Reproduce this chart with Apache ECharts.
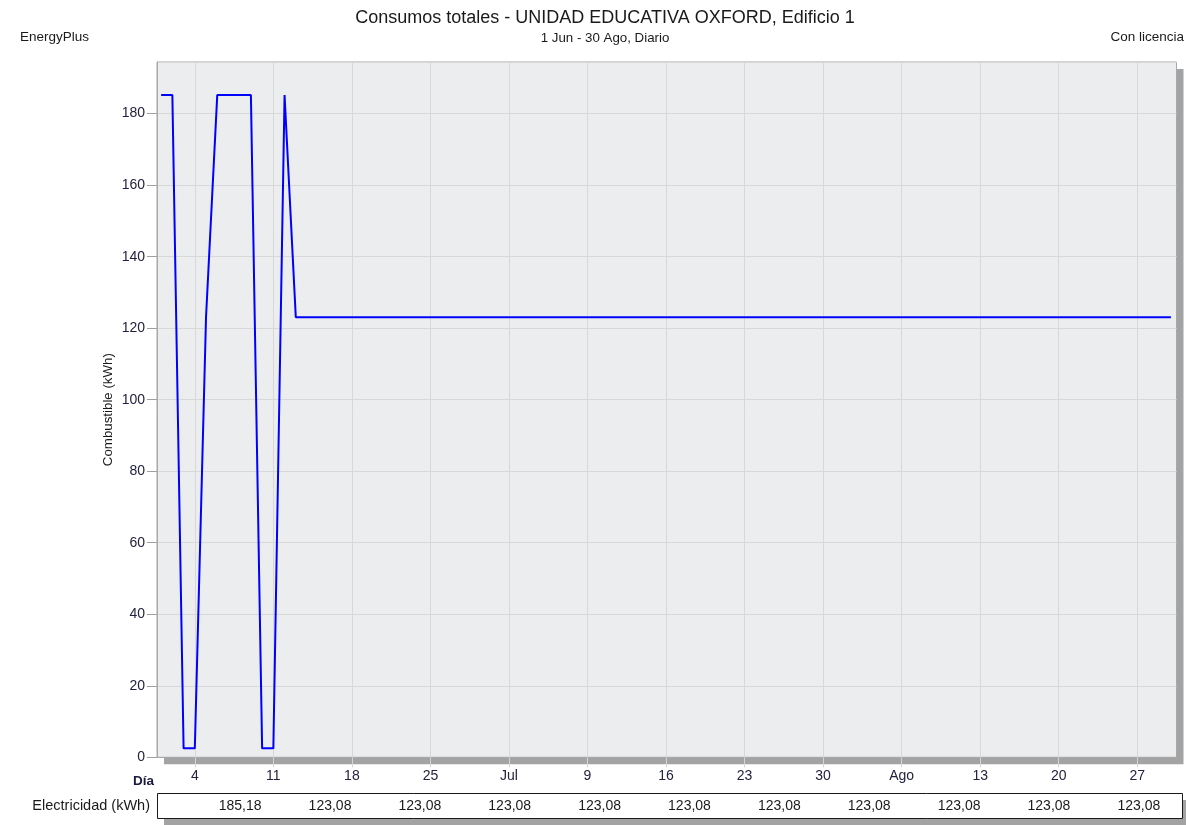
<!DOCTYPE html>
<html>
<head>
<meta charset="utf-8">
<script src="https://cdn.jsdelivr.net/npm/echarts@6/dist/echarts.min.js"></script>
<style>html,body{margin:0;padding:0;background:#fff;}#c{width:1186px;height:825px;}</style>
</head>
<body>
<div id="c"></div>
<script>
// Daily fuel consumption (kWh), 1 Jun .. 30 Ago (91 days)
const fuelValues = [
  185.18, 185.18, 2.5, 2.5, 123.08, 185.18, 185.18, 185.18, 185.18, 2.5,
  2.5, 185.18, 123.08, 123.08, 123.08, 123.08, 123.08, 123.08, 123.08, 123.08,
  123.08, 123.08, 123.08, 123.08, 123.08, 123.08, 123.08, 123.08, 123.08, 123.08,
  123.08, 123.08, 123.08, 123.08, 123.08, 123.08, 123.08, 123.08, 123.08, 123.08,
  123.08, 123.08, 123.08, 123.08, 123.08, 123.08, 123.08, 123.08, 123.08, 123.08,
  123.08, 123.08, 123.08, 123.08, 123.08, 123.08, 123.08, 123.08, 123.08, 123.08,
  123.08, 123.08, 123.08, 123.08, 123.08, 123.08, 123.08, 123.08, 123.08, 123.08,
  123.08, 123.08, 123.08, 123.08, 123.08, 123.08, 123.08, 123.08, 123.08, 123.08,
  123.08, 123.08, 123.08, 123.08, 123.08, 123.08, 123.08, 123.08, 123.08, 123.08,
  123.08
];
// x tick positions (day index from 1 Jun) and their labels
const tickDays = [3, 10, 17, 24, 31, 38, 45, 52, 59, 66, 73, 80, 87];
const tickLabels = ['4', '11', '18', '25', 'Jul', '9', '16', '23', '30', 'Ago', '13', '20', '27'];
// Electricity table values
const elecValues = ['185,18', '123,08', '123,08', '123,08', '123,08', '123,08', '123,08', '123,08', '123,08', '123,08', '123,08'];
const yMax = 185.18 * 1.05;

const FONT = 'Liberation Sans, Arial, sans-serif';
const LABEL_COLOR = '#23233f';
const G = { left: 157, top: 62, width: 1019.5, height: 695.3 };

const chart = echarts.init(document.getElementById('c'), null, { renderer: 'canvas' });

const labelMap = {};
tickDays.forEach((d, i) => { labelMap[d] = tickLabels[i]; });

const option = {
  animation: false,
  backgroundColor: '#ffffff',
  textStyle: { fontFamily: FONT },
  title: {
    text: 'Consumos totales - UNIDAD EDUCATIVA OXFORD, Edificio 1',
    subtext: '1 Jun - 30 Ago, Diario',
    left: 600,
    textAlign: 'center',
    top: 4,
    itemGap: 5,
    textStyle: { fontFamily: FONT, fontSize: 18, fontWeight: 'normal', color: '#1a1a1a' },
    subtextStyle: { fontFamily: FONT, fontSize: 13.3, color: '#1a1a1a' }
  },
  grid: {
    left: G.left, top: G.top, width: G.width, height: G.height,
    show: true,
    backgroundColor: 'transparent',
    borderColor: '#a8a8a8',
    borderWidth: 1
  },
  xAxis: {
    type: 'value',
    min: -0.37,
    max: 90.5,
    axisLine: { show: true, onZero: false, lineStyle: { color: '#a8a8a8', width: 1 } },
    axisTick: { show: true, customValues: tickDays, length: 10, lineStyle: { color: '#d4d4d4' } },
    axisLabel: {
      customValues: tickDays,
      formatter: v => labelMap[Math.round(v)] || '',
      margin: 12,
      fontSize: 14,
      fontFamily: FONT,
      color: LABEL_COLOR
    },
    splitLine: { show: true, lineStyle: { color: '#d8d8d8', width: 1 } }
  },
  yAxis: {
    type: 'value',
    min: 0,
    max: yMax,
    interval: 20,
    name: 'Combustible (kWh)',
    nameLocation: 'middle',
    nameGap: 42,
    nameMoveOverlap: false,
    nameRotate: 90,
    nameTextStyle: { fontFamily: FONT, fontSize: 13.3, color: '#1a1a1a' },
    axisLine: { show: true, onZero: false, lineStyle: { color: '#a8a8a8', width: 1 } },
    axisTick: { show: true, length: 10, lineStyle: { color: '#a0a0a0' } },
    axisLabel: { showMaxLabel: false, margin: 12, fontSize: 14, fontFamily: FONT, color: LABEL_COLOR },
    splitLine: { show: true, lineStyle: { color: '#d8d8d8', width: 1 } }
  },
  series: [{
    type: 'line',
    data: fuelValues.map((v, i) => [i, v]),
    showSymbol: false,
    symbol: 'none',
    lineStyle: { color: '#0000ff', width: 2 },
    itemStyle: { color: '#0000ff' },
    z: 5
  }]
};

chart.setOption(option);

// Plot background + shadow, header texts, "Día" label and the electricity table
const elements = [
  { type: 'rect', z: -20, silent: true, shape: { x: G.left + 7, y: G.top + 7, width: G.width, height: G.height }, style: { fill: '#a3a3a3' } },
  { type: 'rect', z: -10, silent: true, shape: { x: G.left, y: G.top, width: G.width, height: G.height }, style: { fill: '#ebedee' } },
  { type: 'text', left: 20, top: 30, style: { text: 'EnergyPlus', font: '13.5px ' + FONT, fill: '#1a1a1a' } },
  { type: 'text', right: 2, top: 30, style: { text: 'Con licencia', font: '13.5px ' + FONT, fill: '#1a1a1a' } },
  { type: 'text', z: 3, left: 133, top: 774, style: { text: 'Día', font: 'bold 13.5px ' + FONT, fill: '#1a1a40' } },
  { type: 'rect', z: 1, shape: { x: 164, y: 800, width: 1025, height: 25 }, style: { fill: '#a3a3a3' } },
  { type: 'rect', z: 2, shape: { x: 157.5, y: 793.5, width: 1025, height: 25 }, style: { fill: '#ffffff', stroke: '#1a1a1a', lineWidth: 1 } },
  { type: 'text', z: 3, x: 150, y: 806, style: { text: 'Electricidad (kWh)', font: '14.5px ' + FONT, fill: '#1a1a1a', align: 'right', verticalAlign: 'middle' } }
];
elecValues.forEach((v, i) => {
  const px = chart.convertToPixel({ xAxisIndex: 0 }, 7.04 + 8.01 * i);
  elements.push({ type: 'text', z: 3, x: px, y: 806, style: { text: v, font: '14px ' + FONT, fill: '#1a1a1a', align: 'center', verticalAlign: 'middle' } });
});
chart.setOption({ graphic: { elements } });
</script>
</body>
</html>
